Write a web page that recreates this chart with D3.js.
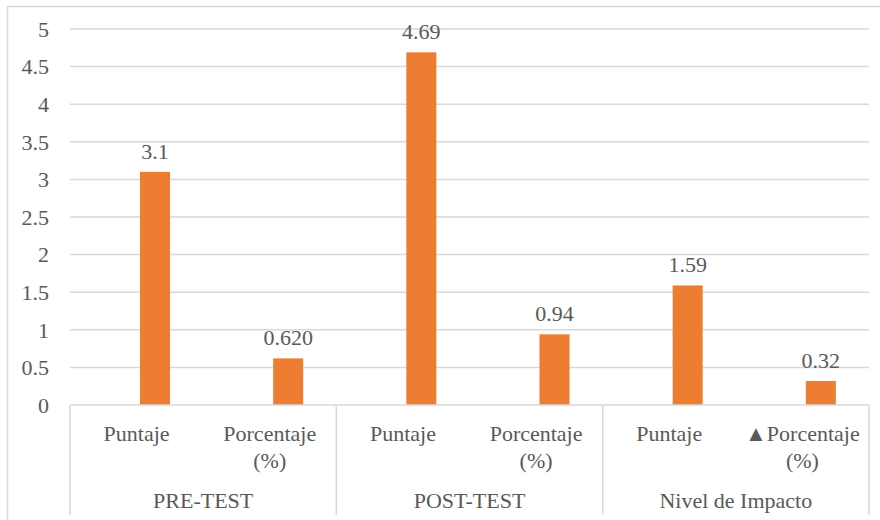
<!DOCTYPE html>
<html lang="es">
<head>
<meta charset="UTF-8" />
<title>PRE-TEST / POST-TEST</title>
<style>
  body { margin: 0; background: #fff; font-family: 'Liberation Serif', 'DejaVu Serif', serif; }
  .grid line { stroke: #d9d9d9; stroke-width: 1.5px; }
  .bar { fill: #ed7d31; }
</style>
</head>
<body>
<script src="https://cdn.jsdelivr.net/npm/d3@7"></script>
<script>
// data
var groups = ["PRE-TEST", "POST-TEST", "Nivel de Impacto"];
var subLabels = [["Puntaje"], ["Porcentaje", "(%)"], ["Puntaje"], ["Porcentaje", "(%)"], ["Puntaje"], ["\u25B2Porcentaje", "(%)"]];
var values = [3.1, 0.62, 4.69, 0.94, 1.59, 0.32];
var valueLabels = ["3.1", "0.620", "4.69", "0.94", "1.59", "0.32"];
var yTicks = [0, 0.5, 1, 1.5, 2, 2.5, 3, 3.5, 4, 4.5, 5];

var w = 880, h = 520;
var plotLeft = 70, plotRight = 869, plotTop = 29, plotBase = 405;

var svg = d3.select("body").append("svg")
  .attr("width", w)
  .attr("height", h)
  .attr("font-family", "Liberation Serif, DejaVu Serif, serif")
  .attr("font-size", 22)
  .attr("fill", "#595959")
  .style("font-family", "'Liberation Serif', 'DejaVu Serif', serif");

// outer chart border (cropped on right/bottom)
svg.append("rect")
  .attr("x", 7.5).attr("y", 6.5)
  .attr("width", 920).attr("height", 600)
  .attr("fill", "none")
  .attr("stroke", "#d9d9d9")
  .attr("stroke-width", 1.5);

var idx = d3.range(values.length);

var x = d3.scaleBand()
  .domain(idx)
  .range([plotLeft, plotRight]);

// two series slots per category, first one is empty in the original
var xs = d3.scaleBand()
  .domain([0, 1])
  .range([0, x.bandwidth()])
  .paddingInner(0.185)
  .paddingOuter(0.9);

var y = d3.scaleLinear()
  .domain([0, 5])
  .range([plotBase, plotTop]);

// gridlines
svg.append("g")
  .attr("class", "grid")
  .selectAll("line")
  .data(yTicks.filter(function(d) { return d > 0; }))
  .enter()
  .append("line")
  .attr("x1", plotLeft).attr("x2", plotRight)
  .attr("y1", function(d) { return y(d); })
  .attr("y2", function(d) { return y(d); });

// y tick labels
svg.append("g")
  .selectAll("text")
  .data(yTicks)
  .enter()
  .append("text")
  .attr("x", 49)
  .attr("y", function(d) { return y(d); })
  .attr("dy", "0.35em")
  .attr("text-anchor", "end")
  .text(function(d) { return d; });

// bars
svg.selectAll("rect.bar")
  .data(idx)
  .enter()
  .append("rect")
  .attr("class", "bar")
  .attr("x", function(i) { return x(i) + xs(1); })
  .attr("y", function(i) { return y(values[i]); })
  .attr("width", xs.bandwidth())
  .attr("height", function(i) { return plotBase - y(values[i]); });

// value labels
svg.selectAll("text.val")
  .data(idx)
  .enter()
  .append("text")
  .attr("class", "val")
  .attr("x", function(i) { return x(i) + xs(1) + xs.bandwidth() / 2; })
  .attr("y", function(i) { return y(values[i]) - 13; })
  .attr("text-anchor", "middle")
  .text(function(i) { return valueLabels[i]; });

// category axis
var axis = svg.append("g").attr("class", "grid");
axis.append("line")
  .attr("x1", plotLeft).attr("x2", plotRight)
  .attr("y1", plotBase).attr("y2", plotBase);

var gx = d3.scaleBand()
  .domain(d3.range(groups.length))
  .range([plotLeft, plotRight]);

axis.selectAll("line.sep")
  .data(d3.range(groups.length + 1))
  .enter()
  .append("line")
  .attr("class", "sep")
  .attr("x1", function(g) { return plotLeft + g * gx.bandwidth(); })
  .attr("x2", function(g) { return plotLeft + g * gx.bandwidth(); })
  .attr("y1", plotBase).attr("y2", 515);

var sub = svg.append("g")
  .selectAll("text")
  .data(idx)
  .enter()
  .append("text")
  .attr("text-anchor", "middle")
  .attr("x", function(i) { return x(i) + x.bandwidth() / 2; })
  .attr("y", 441);

sub.selectAll("tspan")
  .data(function(i) { return subLabels[i]; })
  .enter()
  .append("tspan")
  .attr("x", function() { return d3.select(this.parentNode).attr("x"); })
  .attr("dy", function(d, k) { return k === 0 ? 0 : 27; })
  .text(function(d) { return d; });

svg.append("g")
  .selectAll("text")
  .data(groups)
  .enter()
  .append("text")
  .attr("text-anchor", "middle")
  .attr("x", function(d, g) { return gx(g) + gx.bandwidth() / 2; })
  .attr("y", 508)
  .text(function(d) { return d; });
</script>
</body>
</html>
